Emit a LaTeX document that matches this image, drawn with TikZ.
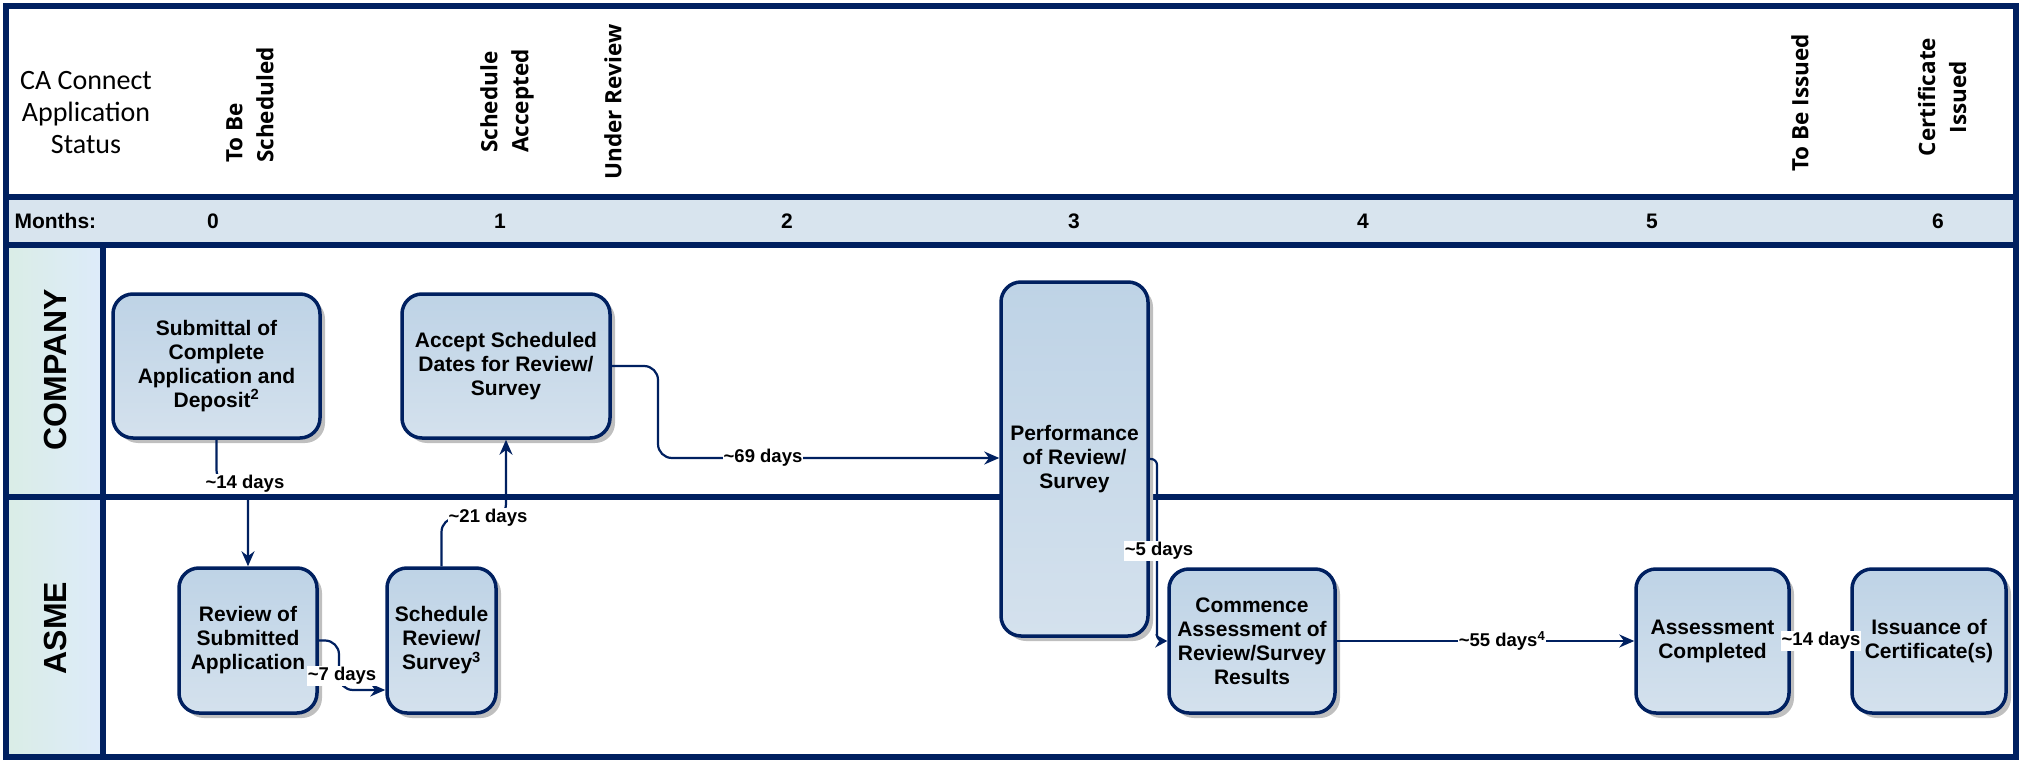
\documentclass[tikz,border=0pt]{standalone}
\usepackage{fontspec}
\setmainfont{Liberation Sans}
\newfontfamily\carlito{Carlito}
\newfontfamily\opensans{Open Sans}
\usetikzlibrary{arrows.meta,shadows}
\definecolor{navy}{RGB}{0,32,96}
\definecolor{boxtop}{RGB}{190,211,230}
\definecolor{boxbot}{RGB}{212,225,237}
\definecolor{monthfill}{RGB}{216,228,238}
\definecolor{lanel}{RGB}{218,237,230}
\definecolor{laner}{RGB}{221,235,250}
\tikzset{
  stepbox/.style={draw=navy, line width=3.5pt, rounded corners=20pt, top color=boxtop, bottom color=boxbot,
    align=center, font=\fontsize{21}{24}\selectfont\bfseries, inner sep=2pt,
    drop shadow={shadow xshift=5pt, shadow yshift=-5pt, fill=gray!50, opacity=1}},
  conn/.style={draw=navy, line width=2.2pt, rounded corners=14pt, -{Stealth[length=15pt,width=13pt]}},
  dlabel/.style={fill=white, inner sep=1pt, font=\fontsize{18.5}{20}\selectfont\bfseries},
  status/.style={rotate=90, inner sep=0pt, font=\opensans\bfseries\fontsize{22.5}{31}\selectfont},
  month/.style={font=\fontsize{21}{24}\selectfont\bfseries},
  lanelabel/.style={rotate=90, font=\fontsize{32}{36}\selectfont\bfseries},
  frame/.style={draw=navy, line width=6pt}
}
\begin{document}
\begin{tikzpicture}[x=1pt,y=-1pt]
\useasboundingbox (0,0) rectangle (2022,762);
% backgrounds
\fill[monthfill] (6,197) rectangle (2016,245);
\shade[left color=lanel, right color=laner] (6,245) rectangle (103,757);
% frame lines
\draw[frame] (6,197) -- (2016,197);
\draw[frame] (6,245) -- (2016,245);
\draw[frame] (6,497) -- (2016,497);
\draw[frame] (103,245) -- (103,757);
\draw[frame] (6,6) rectangle (2016,757);
% header
\node[align=center, font=\carlito\fontsize{28}{32}\selectfont] (castatus) at (86,113) {CA Connect\\Application\\Status};
\node[status, align=left, anchor=west] (tbs) at (250,163) {To Be\\Scheduled};
\node[status, align=left, anchor=west] (sa) at (507,153) {Schedule\\Accepted};
\node[status] (ur) at (613,102) {Under Review};
\node[status] (tbi) at (1800,103) {To Be Issued};
\node[status, align=center] (ci) at (1942,97) {Certificate\\Issued};
% months
\node[month, anchor=west] (mlabel) at (11,221) {Months:};
\node[month] (m0) at (213,221) {0};
\node[month] (m1) at (500,221) {1};
\node[month] (m2) at (787,221) {2};
\node[month] (m3) at (1074,221) {3};
\node[month] (m4) at (1363,221) {4};
\node[month] (m5) at (1652,221) {5};
\node[month] (m6) at (1938,221) {6};
% lanes
\node[lanelabel] (company) at (55,370) {COMPANY};
\node[lanelabel] (asme) at (55,628) {ASME};
% boxes
\node[stepbox, minimum width=207pt, minimum height=144pt] (sub) at (216.5,366) {Submittal of\\Complete\\Application and\\Deposit\textsuperscript{2}};
\node[stepbox, minimum width=208pt, minimum height=144pt] (acc) at (506,366) {Accept Scheduled\\Dates for Review/\\Survey};
\node[stepbox, minimum width=147pt, minimum height=354pt] (perf) at (1074.5,459) {Performance\\of Review/\\Survey};
\node[stepbox, minimum width=138pt, minimum height=145pt] (rev) at (248,640.5) {Review of\\Submitted\\Application};
\node[stepbox, minimum width=109pt, minimum height=145pt] (sched) at (441.5,640.5) {Schedule\\Review/\\Survey\textsuperscript{3}};
\node[stepbox, minimum width=166pt, minimum height=144pt] (comm) at (1252,641) {Commence\\Assessment of\\Review/Survey\\Results};
\node[stepbox, minimum width=153pt, minimum height=144pt] (acomp) at (1712.5,641) {Assessment\\Completed};
\node[stepbox, minimum width=154pt, minimum height=144pt] (iss) at (1929,641) {Issuance of\\Certificate(s)};
% connector bend points
\coordinate (k14) at (232,484);
\coordinate (k7) at (339,690);
\coordinate (k21) at (470,518);
\coordinate (k69) at (658,458);
\coordinate (k5) at (1157,641);
% connectors
\draw[conn] (sub.south) |- (k14) -| (rev.north);
\draw[conn] (rev.east) -| (k7) -- (sched.west |- k7);
\draw[conn] (sched.north) |- (k21) -| (acc.south);
\draw[conn] (acc.east) -| (k69) -- (perf.west |- k69);
\draw[conn, rounded corners=6pt, -{Stealth[length=12pt,width=13pt]}] (perf.east) -| (k5) -- (comm.west);
\draw[conn] (comm.east) -- (acomp.west);
\draw[conn] (acomp.east) -- (iss.west);
% labels
\node[dlabel] (l14) at (245,484) {\textasciitilde14 days};
\node[dlabel] (l7) at (342,676) {\textasciitilde7 days};
\node[dlabel] (l21) at (488,518) {\textasciitilde21 days};
\node[dlabel] (l69) at (763,458) {\textasciitilde69 days};
\node[dlabel] (l5) at (1159,551) {\textasciitilde5 days};
\node[dlabel] (l55) at (1502,641) {\textasciitilde55 days\textsuperscript{4}};
\node[dlabel] (l14b) at (1821,641) {\textasciitilde14 days};
\end{tikzpicture}
\end{document}
